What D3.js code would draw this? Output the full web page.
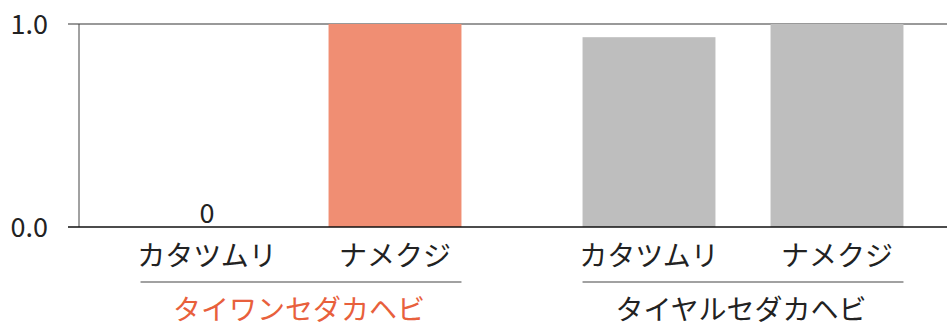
<!DOCTYPE html>
<html>
<head>
<meta charset="utf-8">
<script src="https://cdn.jsdelivr.net/npm/d3@7"></script>
<style>
  body { margin: 0; background: #fff; }
  svg text { font-family: "Noto Sans CJK JP", "Noto Sans", sans-serif; }
</style>
</head>
<body>
<div id="container"></div>
<script>
const width = 947;
const height = 327;

// data
const groups = ["タイワンセダカヘビ", "タイヤルセダカヘビ"];
const categories = ["カタツムリ", "ナメクジ"];
const values = [[0, 1.0], [0.935, 1.0]];
const yTicks = [0, 1];
const groupColors = ["#f08e73", "#bebebe"];
const groupLabelColors = ["#e8603c", "#222222"];

const svg = d3.select("#container")
              .append("svg")
              .attr("width", width)
              .attr("height", height);

const y = d3.scaleLinear()
            .domain([0, 1])
            .range([227, 24]);
const x0 = d3.scaleBand()
             .domain(groups)
             .range([80, 964])
             .padding(0);
const x1 = d3.scaleBand()
             .domain(categories)
             .range([0, x0.bandwidth()])
             .paddingInner(0.293)
             .paddingOuter(0.322);

// top gridline
svg.append("line")
   .attr("x1", 68).attr("x2", width)
   .attr("y1", y(1)).attr("y2", y(1))
   .attr("stroke", "#999").attr("stroke-width", 2);

// bars
const g = svg.selectAll("g.group")
             .data(groups)
             .enter()
             .append("g")
             .attr("class", "group")
             .attr("transform", d => "translate(" + x0(d) + ",0)");

g.selectAll("rect")
 .data((d, gi) => categories.map((c, ci) => ({ c, v: values[gi][ci], gi })))
 .enter()
 .append("rect")
 .attr("x", d => x1(d.c))
 .attr("width", x1.bandwidth())
 .attr("y", d => y(d.v))
 .attr("height", d => y(0) - y(d.v))
 .attr("fill", d => groupColors[d.gi]);

// zero value labels
g.selectAll("text.val")
 .data((d, gi) => categories.map((c, ci) => ({ c, v: values[gi][ci] })).filter(d => d.v === 0))
 .enter()
 .append("text")
 .attr("class", "val")
 .attr("x", d => x1(d.c) + x1.bandwidth() / 2)
 .attr("y", d => y(d.v) - 4)
 .attr("text-anchor", "middle")
 .attr("font-size", 27)
 .attr("fill", "#222")
 .text(d => d3.format("d")(d.v));

// category labels
g.selectAll("text.cat")
 .data(categories)
 .enter()
 .append("text")
 .attr("class", "cat")
 .attr("x", d => x1(d) + x1.bandwidth() / 2)
 .attr("y", 266)
 .attr("text-anchor", "middle")
 .attr("font-size", 28)
 .attr("fill", "#222")
 .text(d => d);

// group underline
g.append("line")
 .attr("x1", x1(categories[0]))
 .attr("x2", x1(categories[categories.length - 1]) + x1.bandwidth())
 .attr("y1", 282).attr("y2", 282)
 .attr("stroke", "#444").attr("stroke-width", 1.2);

// group labels
g.append("text")
 .attr("x", x0.bandwidth() / 2 - 2)
 .attr("y", 320)
 .attr("text-anchor", "middle")
 .attr("font-size", 28)
 .attr("fill", (d, i) => groupLabelColors[i])
 .text(d => d);

// y axis
svg.append("line")
   .attr("x1", 79).attr("x2", 79)
   .attr("y1", y(1)).attr("y2", y(0))
   .attr("stroke", "#444").attr("stroke-width", 1);

svg.selectAll("text.ytick")
   .data(yTicks)
   .enter()
   .append("text")
   .attr("class", "ytick")
   .attr("x", 48)
   .attr("y", d => y(d) + 10)
   .attr("text-anchor", "end")
   .attr("font-size", 27)
   .attr("fill", "#222")
   .text(d => d3.format(".1f")(d));

// baseline
svg.append("line")
   .attr("x1", 68).attr("x2", width)
   .attr("y1", y(0)).attr("y2", y(0))
   .attr("stroke", "#111").attr("stroke-width", 1.5);
</script>
</body>
</html>
